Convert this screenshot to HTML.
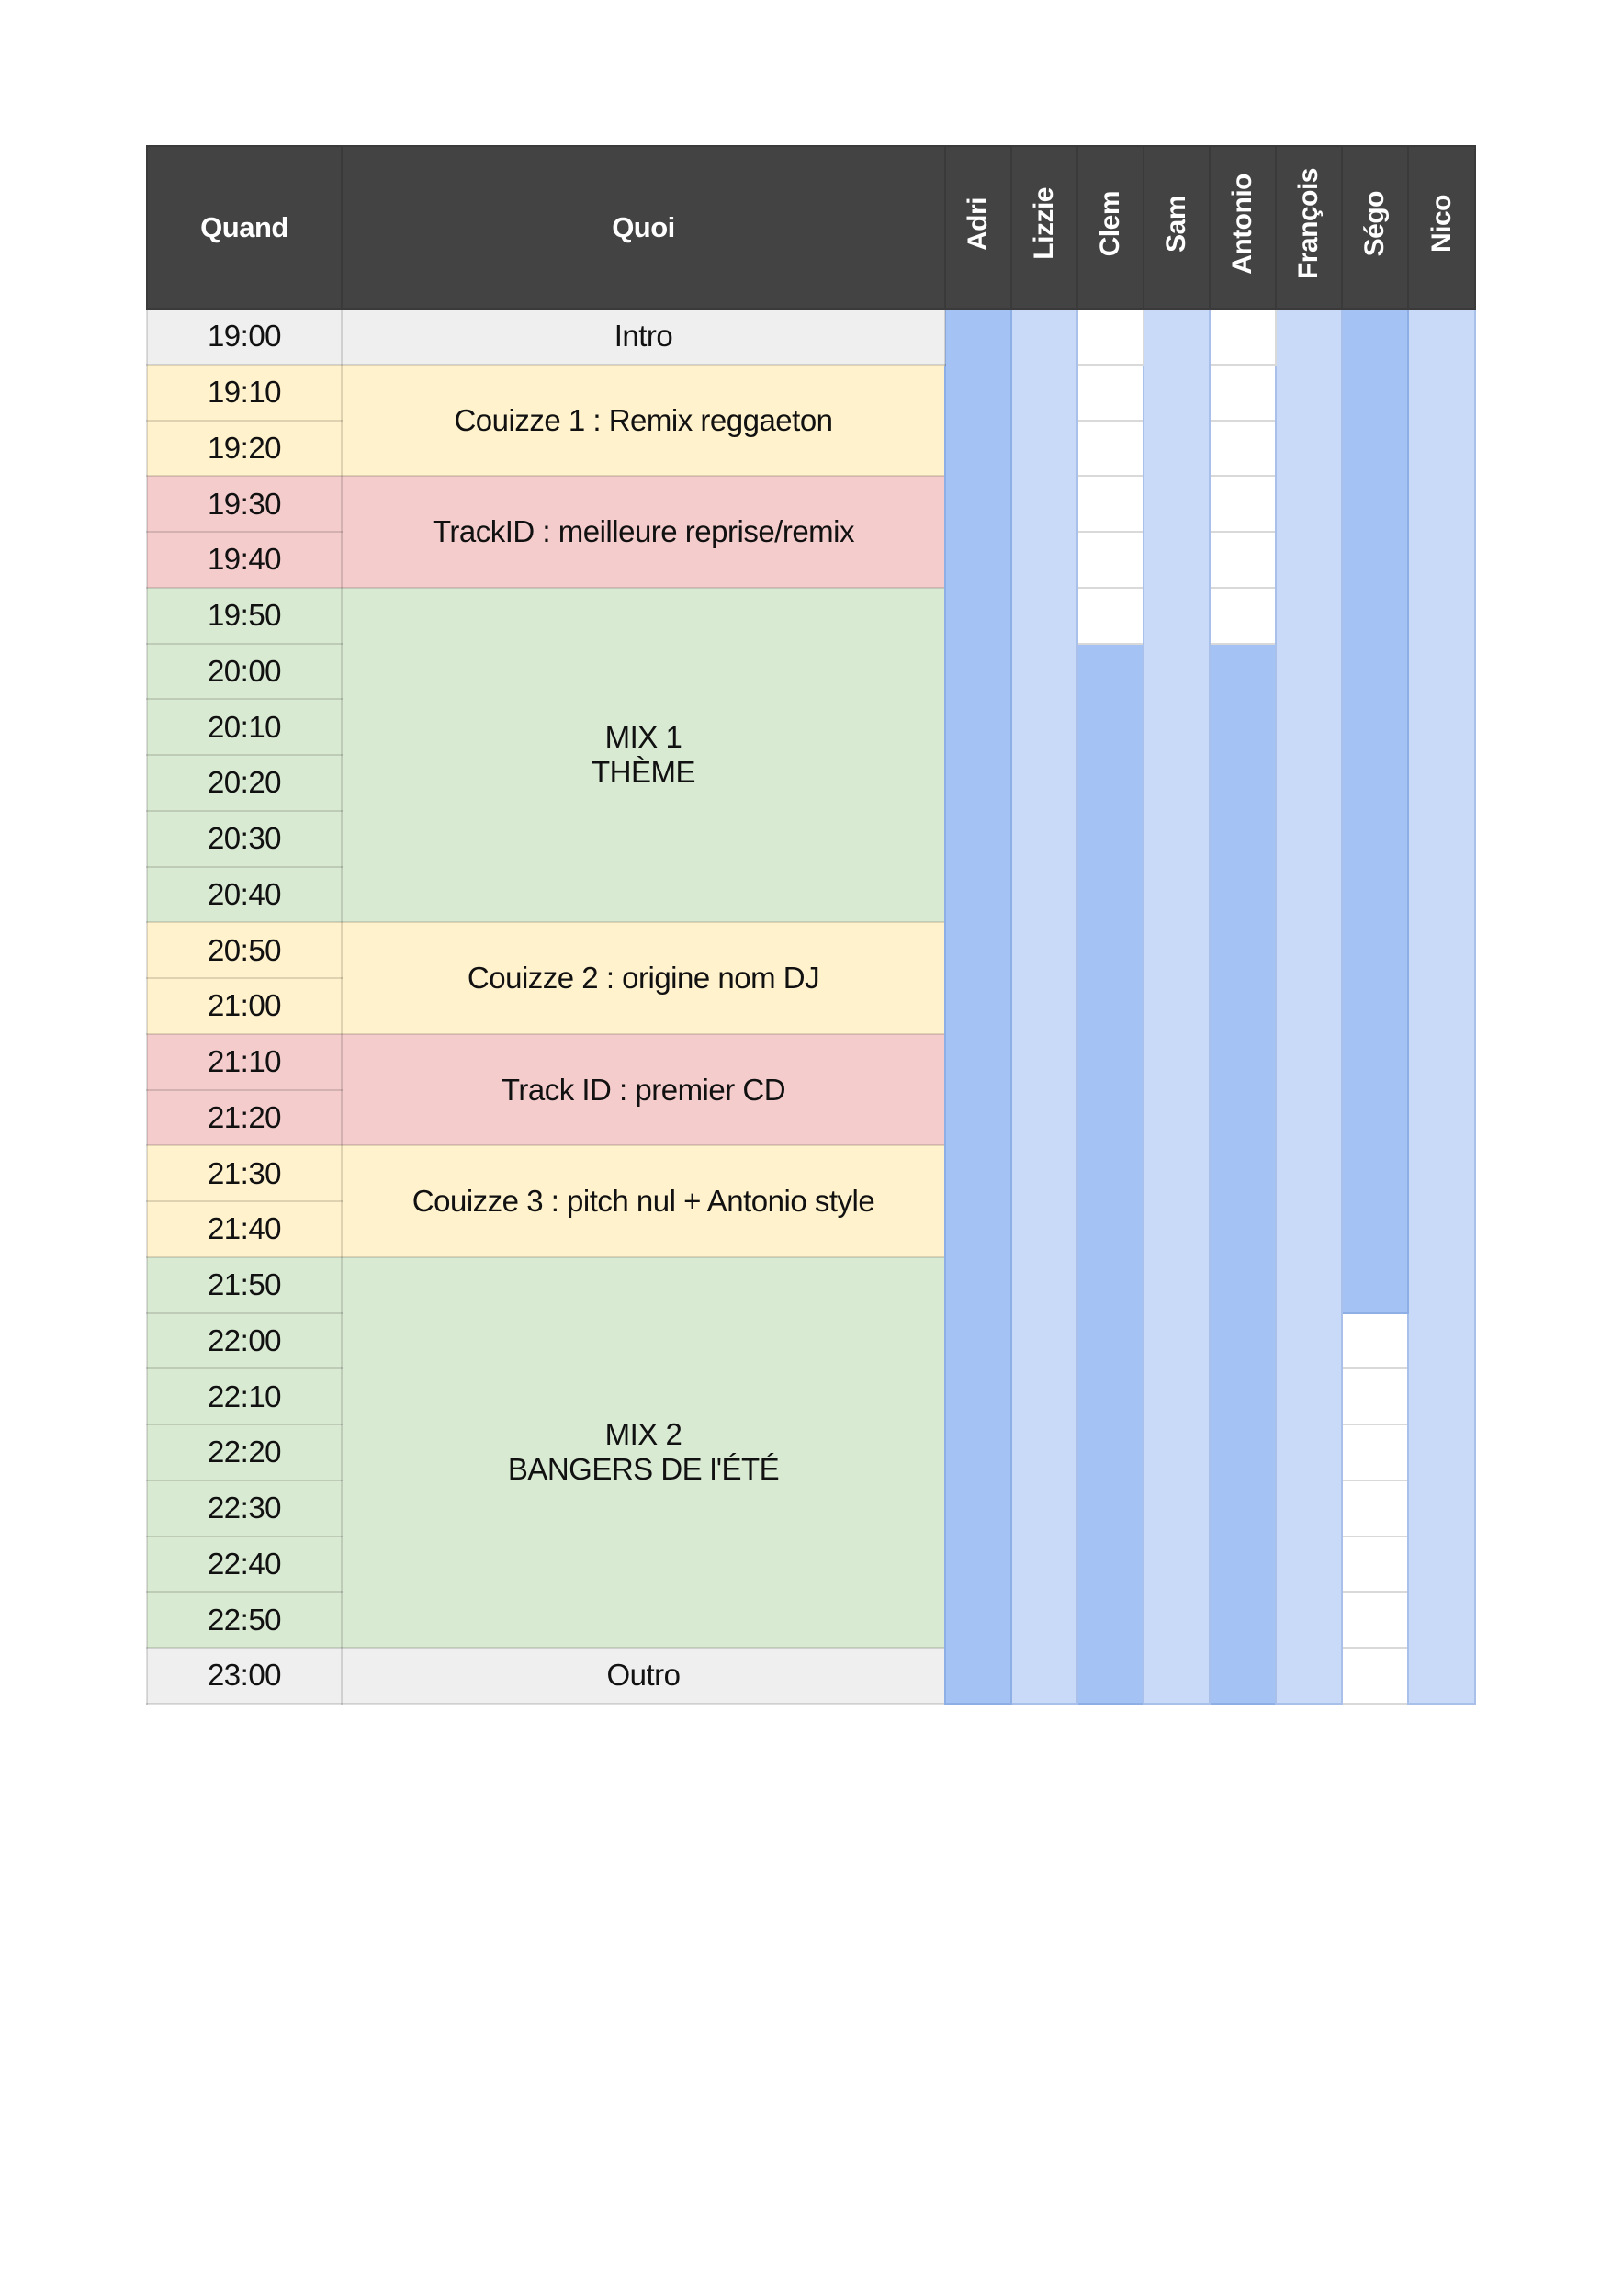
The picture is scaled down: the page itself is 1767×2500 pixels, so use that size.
<!DOCTYPE html>
<html><head><meta charset="utf-8"><style>
html,body{margin:0;padding:0;background:#fff;width:1767px;height:2500px;overflow:hidden}
table{position:absolute;left:159px;top:158px;border-collapse:collapse;table-layout:fixed;width:1446px;font-family:"Liberation Sans",sans-serif}
td,th{padding:0;text-align:center;vertical-align:middle;border:2px solid rgba(0,0,0,0.13);font-size:33px;color:#111;letter-spacing:-0.5px}
th{background:#434343;color:#fff;font-weight:bold;height:175px;border:2px solid #3a3a3a;font-size:31px}
tr.r{height:60.76px}
.v{writing-mode:vertical-rl;transform:rotate(180deg);display:inline-block;font-size:30px}
.g{background:#efefef}.y{background:#fff2cc}.p{background:#f4cccc}.n{background:#d9ead3}
.d{background:#a4c2f4;border:2px solid #8eaee6}.l{background:#c9daf8;border:2px solid #a9c0ea}.w{background:#fff;border:2px solid #d9d9d9}
</style></head><body>
<table>
<colgroup><col style="width:212px"><col style="width:657px"><col style="width:72px"><col style="width:72px"><col style="width:72px"><col style="width:72px"><col style="width:72px"><col style="width:72px"><col style="width:72px"><col style="width:73px"></colgroup>
<tr><th>Quand</th><th>Quoi</th><th><span class="v">Adri</span></th><th><span class="v">Lizzie</span></th><th><span class="v">Clem</span></th><th><span class="v">Sam</span></th><th><span class="v">Antonio</span></th><th><span class="v">François</span></th><th><span class="v">Ségo</span></th><th><span class="v">Nico</span></th></tr>
<tr class="r"><td class="g">19:00</td><td class="g">Intro</td><td class="d" rowspan="25"></td><td class="l" rowspan="25"></td><td class="w"></td><td class="l" rowspan="25"></td><td class="w"></td><td class="l" rowspan="25"></td><td class="d" rowspan="18"></td><td class="l" rowspan="25"></td></tr>
<tr class="r"><td class="y">19:10</td><td class="y" rowspan="2">Couizze 1 : Remix reggaeton</td><td class="w"></td><td class="w"></td></tr>
<tr class="r"><td class="y">19:20</td><td class="w"></td><td class="w"></td></tr>
<tr class="r"><td class="p">19:30</td><td class="p" rowspan="2">TrackID : meilleure reprise/remix</td><td class="w"></td><td class="w"></td></tr>
<tr class="r"><td class="p">19:40</td><td class="w"></td><td class="w"></td></tr>
<tr class="r"><td class="n">19:50</td><td class="n" rowspan="6">MIX 1<br>THÈME</td><td class="w"></td><td class="w"></td></tr>
<tr class="r"><td class="n">20:00</td><td class="d" rowspan="19"></td><td class="d" rowspan="19"></td></tr>
<tr class="r"><td class="n">20:10</td></tr>
<tr class="r"><td class="n">20:20</td></tr>
<tr class="r"><td class="n">20:30</td></tr>
<tr class="r"><td class="n">20:40</td></tr>
<tr class="r"><td class="y">20:50</td><td class="y" rowspan="2">Couizze 2 : origine nom DJ</td></tr>
<tr class="r"><td class="y">21:00</td></tr>
<tr class="r"><td class="p">21:10</td><td class="p" rowspan="2">Track ID : premier CD</td></tr>
<tr class="r"><td class="p">21:20</td></tr>
<tr class="r"><td class="y">21:30</td><td class="y" rowspan="2">Couizze 3 : pitch nul + Antonio style</td></tr>
<tr class="r"><td class="y">21:40</td></tr>
<tr class="r"><td class="n">21:50</td><td class="n" rowspan="7">MIX 2<br>BANGERS DE l'ÉTÉ</td></tr>
<tr class="r"><td class="n">22:00</td><td class="w"></td></tr>
<tr class="r"><td class="n">22:10</td><td class="w"></td></tr>
<tr class="r"><td class="n">22:20</td><td class="w"></td></tr>
<tr class="r"><td class="n">22:30</td><td class="w"></td></tr>
<tr class="r"><td class="n">22:40</td><td class="w"></td></tr>
<tr class="r"><td class="n">22:50</td><td class="w"></td></tr>
<tr class="r"><td class="g">23:00</td><td class="g">Outro</td><td class="w"></td></tr>
</table>
</body></html>
